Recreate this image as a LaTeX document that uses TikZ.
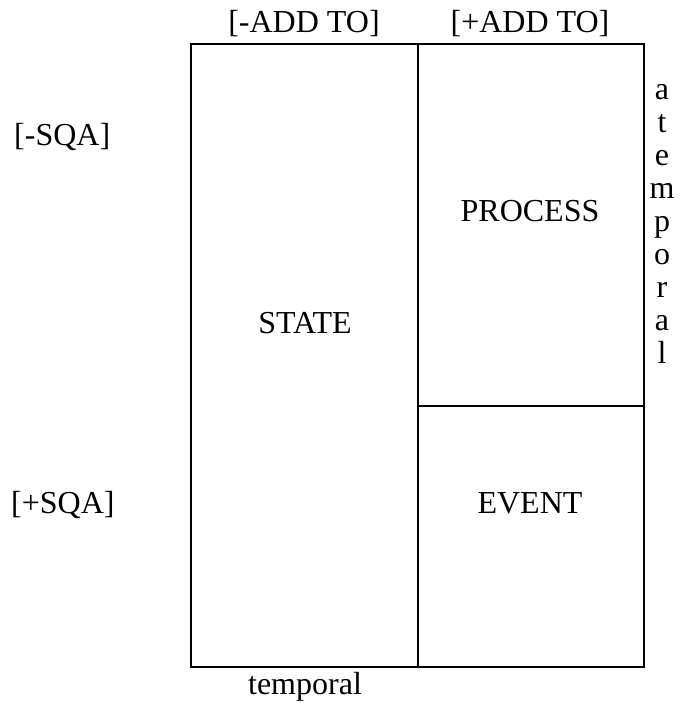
\documentclass[tikz,border=0pt]{standalone}
\usepackage{fontspec}
\setmainfont{Liberation Serif}
\begin{document}
\begin{tikzpicture}[x=1pt,y=-1pt,
  lbl/.style={inner sep=0pt,anchor=base,font=\fontsize{32}{36}\selectfont},
  box/.style={draw,line width=2pt}]
\useasboundingbox (0,0) rectangle (679,703);
\draw[box] (191,44) rectangle (644,667);
\draw[box] (418,44) -- (418,667);
\draw[box] (418,406) -- (644,406);
\node[lbl] (addm) at (304,33) {[-ADD TO]};
\node[lbl] (addp) at (530,33) {[+ADD TO]};
\node[lbl,anchor=base west] (sqam) at (14,146) {[-SQA]};
\node[lbl,anchor=base west] (sqap) at (11,513) {[+SQA]};
\node[lbl] (state) at (305,333) {STATE};
\node[lbl] (process) at (530,222) {PROCESS};
\node[lbl] (event) at (530,513) {EVENT};
\node[lbl] (temp) at (305,694) {temporal};
\foreach \c [count=\i] in {a,t,e,m,p,o,r,a,l}
  \node[lbl] (at\i) at (662,{100+32.9*(\i-1)}) {\c};
\end{tikzpicture}
\end{document}
